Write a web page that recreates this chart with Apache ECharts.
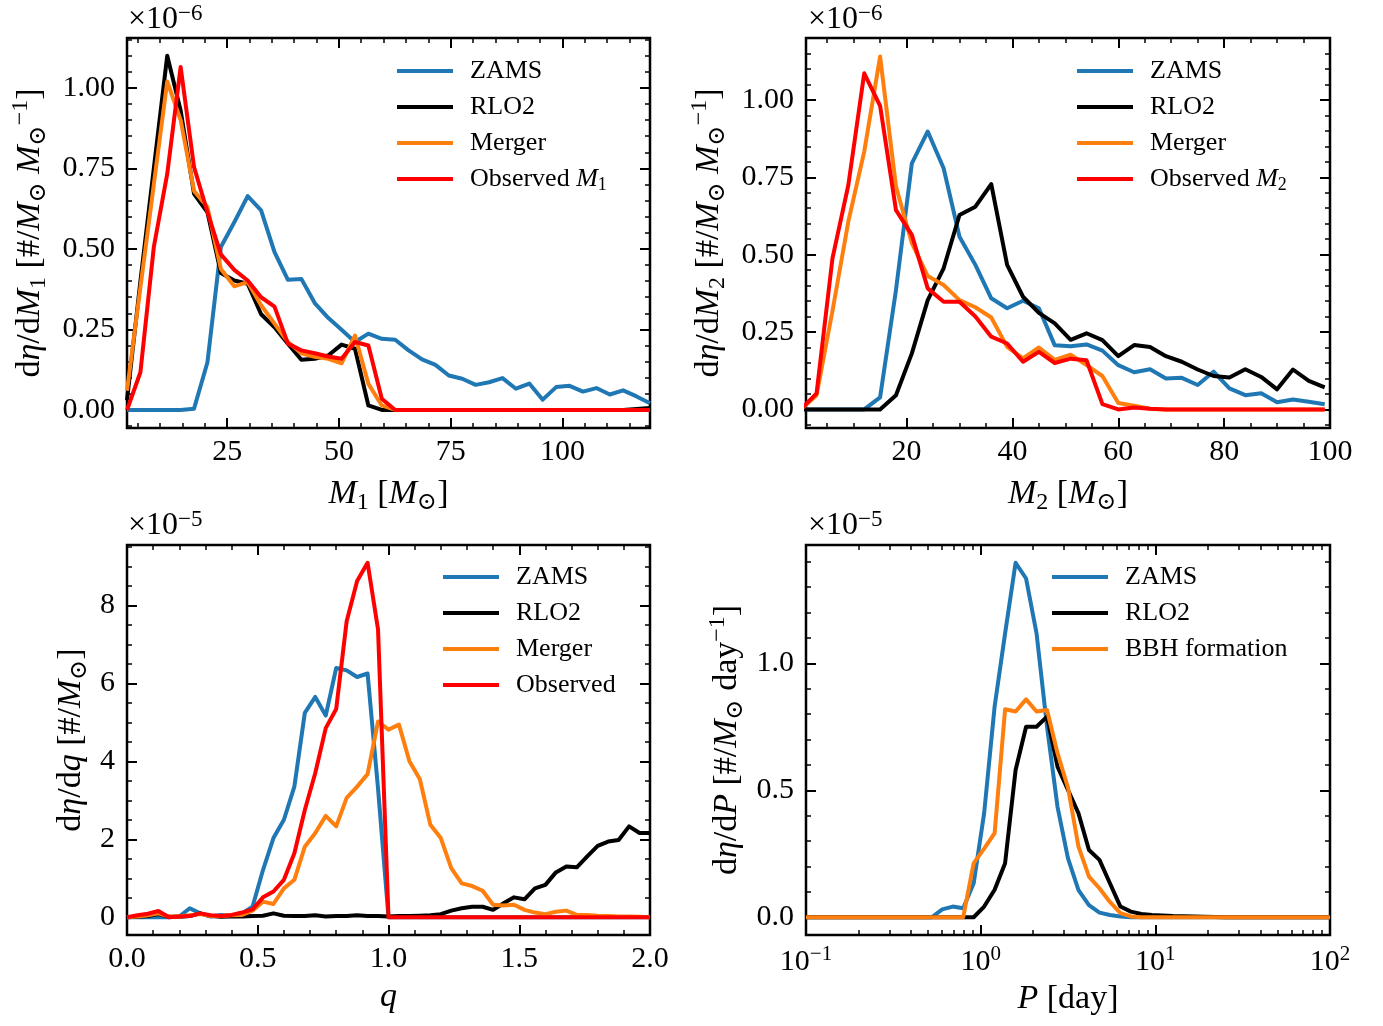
<!DOCTYPE html>
<html><head><meta charset="utf-8">
<script src="https://cdn.jsdelivr.net/npm/echarts@6/dist/echarts.min.js"></script>
<style>html,body{margin:0;padding:0;background:#fff}#c{width:1383px;height:1026px}</style>
</head><body><div id="c"></div>
<script>
// ---------------- data ----------------
// Panel (a): primary mass M1 [Msun], values in units of 1e-6
const m1 = [2.6,5.6,8.6,11.6,14.6,17.6,20.6,23.6,26.6,29.6,32.6,35.6,38.6,41.6,44.6,47.6,50.6,53.6,56.6,59.6,62.6,65.6,68.6,71.6,74.6,77.6,80.6,83.6,86.6,89.6,92.6,95.6,98.6,101.6,104.6,107.6,110.6,113.6,116.6,119.6];
const m1Zams = [0,0,0,0,0,0.004,0.148,0.506,0.583,0.664,0.620,0.49,0.404,0.407,0.332,0.286,0.249,0.211,0.237,0.221,0.218,0.185,0.157,0.140,0.107,0.097,0.078,0.086,0.099,0.066,0.082,0.032,0.071,0.075,0.057,0.068,0.048,0.061,0.042,0.021];
const m1Rlo2 = [0.03,0.40,0.75,1.10,0.93,0.671,0.614,0.425,0.402,0.392,0.297,0.257,0.206,0.156,0.159,0.169,0.203,0.19,0.014,0,0,0,0,0,0,0,0,0,0,0,0,0,0,0,0,0,0,0,0.003,0.006];
const m1Merger = [0.06,0.38,0.70,1.02,0.90,0.68,0.63,0.438,0.384,0.397,0.325,0.268,0.211,0.176,0.165,0.159,0.145,0.231,0.081,0.014,0,0,0,0,0,0,0,0,0,0,0,0,0,0,0,0,0,0,0,0];
const m1Obs = [0,0.117,0.506,0.733,1.065,0.754,0.614,0.483,0.435,0.402,0.35,0.321,0.206,0.185,0.176,0.166,0.159,0.211,0.2,0.035,0,0,0,0,0,0,0,0,0,0,0,0,0,0,0,0,0,0,0,0];

// Panel (b): secondary mass M2 [Msun], units of 1e-6
const m2 = [0,3,6,9,12,15,18,21,24,27,30,33,36,39,42,45,48,51,54,57,60,63,66,69,72,75,78,81,84,87,90,93,96,99];
const m2Zams = [0,0,0,0,0,0.039,0.386,0.795,0.898,0.779,0.558,0.467,0.359,0.327,0.351,0.327,0.207,0.204,0.21,0.19,0.143,0.12,0.13,0.1,0.102,0.079,0.122,0.068,0.046,0.052,0.023,0.032,0.025,0.017];
const m2Rlo2 = [0,0,0,0,0,0,0.046,0.181,0.353,0.456,0.628,0.655,0.728,0.467,0.364,0.312,0.278,0.225,0.246,0.224,0.172,0.208,0.202,0.172,0.154,0.129,0.108,0.103,0.13,0.105,0.065,0.129,0.092,0.071];
const m2Merger = [0,0.046,0.318,0.607,0.833,1.14,0.72,0.537,0.431,0.402,0.353,0.33,0.297,0.202,0.165,0.2,0.16,0.177,0.143,0.108,0.021,0.012,0.002,0,0,0,0,0,0,0,0,0,0,0];
const m2Obs = [0,0.052,0.488,0.725,1.086,0.981,0.644,0.564,0.391,0.348,0.348,0.30,0.235,0.213,0.154,0.186,0.15,0.164,0.159,0.017,0,0.006,0.002,0,0,0,0,0,0,0,0,0,0,0];

// Panel (c): mass ratio q, units of 1e-5
const q = [0,0.04,0.08,0.12,0.16,0.2,0.24,0.28,0.32,0.36,0.4,0.44,0.48,0.52,0.56,0.6,0.64,0.68,0.72,0.76,0.8,0.84,0.88,0.92,0.96,1.0,1.04,1.08,1.12,1.16,1.2,1.24,1.28,1.32,1.36,1.4,1.44,1.48,1.52,1.56,1.6,1.64,1.68,1.72,1.76,1.8,1.84,1.88,1.92,1.96,2.0];
const qZams = [0,0,0,0,0,0.02,0.23,0.1,0.02,0.06,0.03,0.1,0.27,1.21,2.03,2.5,3.35,5.24,5.65,5.17,6.39,6.33,6.16,6.25,3.3,0,0,0,0,0,0,0,0,0,0,0,0,0,0,0,0,0,0,0,0,0,0,0,0,0,0];
const qRlo2 = [0,0.01,0.03,0.08,0.01,0.01,0.03,0.1,0.03,0.01,0.02,0.02,0.03,0.04,0.1,0.04,0.03,0.03,0.05,0.02,0.03,0.03,0.05,0.03,0.03,0.02,0.03,0.03,0.04,0.05,0.08,0.17,0.23,0.27,0.27,0.19,0.36,0.51,0.46,0.74,0.83,1.15,1.30,1.28,1.56,1.83,1.94,1.98,2.33,2.16,2.16];
const qMerger = [0,0.02,0.05,0.1,0.02,0.02,0.05,0.08,0.03,0.03,0.05,0.06,0.17,0.4,0.34,0.74,0.96,1.81,2.16,2.6,2.33,3.06,3.35,3.67,5.02,4.81,4.94,4.0,3.54,2.37,2.03,1.26,0.87,0.80,0.68,0.32,0.30,0.32,0.19,0.12,0.08,0.14,0.17,0.06,0.06,0.04,0.03,0.02,0.02,0.01,0];
const qObs = [0,0.05,0.09,0.16,0,0.02,0.03,0.1,0.05,0.03,0.06,0.12,0.2,0.51,0.66,0.96,1.64,2.75,3.7,4.85,5.34,7.59,8.62,9.09,7.38,0,0,0,0,0,0,0,0,0,0,0,0,0,0,0,0,0,0,0,0,0,0,0,0,0,0];

// Panel (d): orbital period P [day], units of 1e-5
const period = [0.1,0.1148,0.1318,0.1514,0.1738,0.1995,0.2291,0.2630,0.3020,0.3467,0.3981,0.4571,0.5248,0.6026,0.6918,0.7943,0.9120,1.047,1.202,1.380,1.585,1.820,2.089,2.399,2.754,3.162,3.631,4.169,4.786,5.495,6.310,7.244,8.318,9.550,10.96,12.59,14.45,16.60,19.05,21.88,25.12,28.84,33.11,38.02,43.65,50.12,57.54,66.07,75.86,87.10,100.0];
const pZams = [0,0,0,0,0,0,0,0,0,0,0,0,0,0.031,0.042,0.035,0.134,0.41,0.83,1.118,1.396,1.334,1.118,0.75,0.435,0.232,0.107,0.048,0.018,0.009,0.003,0,0,0,0,0,0,0,0,0,0,0,0,0,0,0,0,0,0,0,0];
const pRlo2 = [0,0,0,0,0,0,0,0,0,0,0,0,0,0,0,0,0,0.042,0.108,0.213,0.58,0.75,0.75,0.79,0.593,0.501,0.409,0.265,0.226,0.134,0.042,0.022,0.013,0.009,0.007,0.005,0.004,0.003,0.002,0.001,0,0,0,0,0,0,0,0,0,0,0];
const pBbh = [0,0,0,0,0,0,0,0,0,0,0,0,0,0,0,0,0.213,0.27,0.331,0.819,0.81,0.858,0.81,0.816,0.646,0.51,0.278,0.16,0.114,0.06,0.016,0.003,0,0,0,0,0,0,0,0,0,0,0,0,0,0,0,0,0,0,0];

// tick values
const m1Ticks = [25,50,75,100];
const m1Minor = [5,10,15,20,30,35,40,45,55,60,65,70,80,85,90,95,105,110,115];
const m2Ticks = [20,40,60,80,100];
const m2Minor = [5,10,15,25,30,35,45,50,55,65,70,75,85,90,95];
const qTicks = [0,0.5,1,1.5,2];
const qMinor = [0.1,0.2,0.3,0.4,0.6,0.7,0.8,0.9,1.1,1.2,1.3,1.4,1.6,1.7,1.8,1.9];
const pTicks = [0.1,1,10,100];
const pMinor = [0.2,0.3,0.4,0.5,0.6,0.7,0.8,0.9,2,3,4,5,6,7,8,9,20,30,40,50,60,70,80,90];
const massYTicks = [0,0.25,0.5,0.75,1.0];
const massYMinor = [-0.05,0.05,0.1,0.15,0.2,0.3,0.35,0.4,0.45,0.55,0.6,0.65,0.7,0.8,0.85,0.9,0.95,1.05,1.1,1.15];
const qYTicks = [0,2,4,6,8];
const qYMinor = [0.5,1,1.5,2.5,3,3.5,4.5,5,5.5,6.5,7,7.5,8.5,9,9.5];
const pYTicks = [0,0.5,1.0];
const pYMinor = [0.1,0.2,0.3,0.4,0.6,0.7,0.8,0.9,1.1,1.2,1.3,1.4];

// ---------------- styling / layout ----------------
const FONT = "'Liberation Serif','DejaVu Serif',serif";
const BLUE='#1f77b4', BLACK='#000000', ORANGE='#ff7f0e', RED='#ff0000';
const TICK_FS = 30, NAME_FS = 34, LEG_FS = 26;

function rich(size, lh) {
  const s = Math.round(size * 0.7);
  return {
    i: {fontFamily: FONT, fontSize: size, fontStyle: 'italic', lineHeight: lh, color: '#000'},
    sb: {fontFamily: FONT, fontSize: s, lineHeight: s, verticalAlign: 'bottom', color: '#000'},
    sp: {fontFamily: FONT, fontSize: s, lineHeight: s, verticalAlign: 'top', color: '#000'}
  };
}

const grids = [
  {left: 127, top: 38, width: 523, height: 390},
  {left: 806, top: 38, width: 524, height: 390},
  {left: 127, top: 545, width: 523, height: 390},
  {left: 806, top: 545, width: 524, height: 390}
].map(g => Object.assign(g, {show: true, borderColor: '#000', borderWidth: 2.5, backgroundColor: 'transparent'}));

const xAxes = [], yAxes = [];
function add(list, o) { list.push(o); return list.length - 1; }

function axisSet(list, dim, g, opt) {
  const posA = dim === 'x' ? 'bottom' : 'left';
  const posB = dim === 'x' ? 'top' : 'right';
  const tmin = opt.tmin !== undefined ? opt.tmin : opt.min;
  const tmax = opt.tmax !== undefined ? opt.tmax : opt.max;
  const base = {gridIndex: g, type: 'value', min: tmin, max: tmax, offset: 0,
    axisLine: {show: false, onZero: false}, splitLine: {show: false}};
  const major = opt.major, minor = opt.minor;
  const majTick = {show: true, inside: true, length: 10, customValues: major, lineStyle: {color: '#000', width: 2}};
  const minTick = {show: true, inside: true, length: 5, customValues: minor, lineStyle: {color: '#000', width: 1.5}};
  let dataIdx;
  if (opt.dataType === 'log') {
    dataIdx = add(list, {gridIndex: g, type: 'log', logBase: 10, min: opt.min, max: opt.max, show: false,
      position: posA, axisLine: {show: false, onZero: false}, splitLine: {show: false}});
  }
  const mainIdx = add(list, Object.assign({}, base, {
    position: posA,
    axisTick: majTick,
    axisLabel: {show: true, customValues: major, formatter: opt.fmt, margin: opt.margin,
      fontFamily: FONT, fontSize: TICK_FS, color: '#000', rich: opt.labelRich},
    name: opt.name, nameLocation: 'middle', nameGap: opt.nameGap, nameRotate: dim === 'y' ? 90 : 0,
    nameTextStyle: {fontFamily: FONT, fontSize: NAME_FS, color: '#000', lineHeight: 42, rich: rich(NAME_FS, 42)}
  }));
  add(list, Object.assign({}, base, {position: posA, axisTick: minTick, axisLabel: {show: false}}));
  add(list, Object.assign({}, base, {position: posB, axisTick: majTick, axisLabel: {show: false}}));
  add(list, Object.assign({}, base, {position: posB, axisTick: minTick, axisLabel: {show: false}}));
  return dataIdx !== undefined ? dataIdx : mainIdx;
}

const f2 = v => v.toFixed(2), f1 = v => v.toFixed(1), f0 = v => String(Math.round(v));
const mSunInv = ' [#/{i|M}{sb|⊙} {i|M}{sb|⊙}{sp|−1}]';

// axes panel (a)
const xa = axisSet(xAxes, 'x', 0, {min: 2.6, max: 119.6, major: m1Ticks, minor: m1Minor, fmt: f0, margin: 9,
  name: '{i|M}{sb|1} [{i|M}{sb|⊙}]', nameGap: 45});
const ya = axisSet(yAxes, 'y', 0, {min: -0.056, max: 1.155, major: massYTicks, minor: massYMinor, fmt: f2, margin: 12,
  name: 'd{i|η}/d{i|M}{sb|1}' + mSunInv, nameGap: 76});
// axes panel (b)
const xb = axisSet(xAxes, 'x', 1, {min: 1, max: 100, major: m2Ticks, minor: m2Minor, fmt: f0, margin: 9,
  name: '{i|M}{sb|2} [{i|M}{sb|⊙}]', nameGap: 45});
const yb = axisSet(yAxes, 'y', 1, {min: -0.06, max: 1.20, major: massYTicks, minor: massYMinor, fmt: f2, margin: 12,
  name: 'd{i|η}/d{i|M}{sb|2}' + mSunInv, nameGap: 76});
// axes panel (c)
const xc = axisSet(xAxes, 'x', 2, {min: 0, max: 2, major: qTicks, minor: qMinor, fmt: f1, margin: 9,
  name: '{i|q}', nameGap: 41});
const yc = axisSet(yAxes, 'y', 2, {min: -0.455, max: 9.545, major: qYTicks, minor: qYMinor, fmt: f0, margin: 12,
  name: 'd{i|η}/d{i|q} [#/{i|M}{sb|⊙}]', nameGap: 35});
// axes panel (d) : data on a log axis, ticks drawn on a log10-space axis
const xd = axisSet(xAxes, 'x', 3, {dataType: 'log', min: 0.1, max: 100, tmin: -1, tmax: 2,
  major: pTicks.map(v => Math.log10(v)), minor: pMinor.map(v => Math.log10(v)), margin: 9,
  fmt: v => { const e = Math.round(v); return '{b|10}{e|' + (e < 0 ? '−' + (-e) : e) + '}'; },
  labelRich: {b: {fontFamily: FONT, fontSize: TICK_FS, lineHeight: 36}, e: {fontFamily: FONT, fontSize: 21, lineHeight: 21, verticalAlign: 'top'}},
  name: '{i|P} [day]', nameGap: 42});
const yd = axisSet(yAxes, 'y', 3, {min: -0.07, max: 1.466, major: pYTicks, minor: pYMinor, fmt: f1, margin: 12,
  name: 'd{i|η}/d{i|P} [#/{i|M}{sb|⊙} day{sp|−1}]', nameGap: 58});

function line(name, xs, ys, color, xi, yi) {
  return {type: 'line', name, data: xs.map((x, i) => [x, ys[i]]), xAxisIndex: xi, yAxisIndex: yi,
    symbol: 'none', showSymbol: false, clip: true, animation: false, color,
    itemStyle: {color}, lineStyle: {color, width: 4, join: 'round'}};
}

const series = [
  line('ZAMS', m1, m1Zams, BLUE, xa, ya),
  line('RLO2', m1, m1Rlo2, BLACK, xa, ya),
  line('Merger', m1, m1Merger, ORANGE, xa, ya),
  line('Observed M1', m1, m1Obs, RED, xa, ya),
  line('ZAMS', m2, m2Zams, BLUE, xb, yb),
  line('RLO2', m2, m2Rlo2, BLACK, xb, yb),
  line('Merger', m2, m2Merger, ORANGE, xb, yb),
  line('Observed M2', m2, m2Obs, RED, xb, yb),
  line('ZAMS', q, qZams, BLUE, xc, yc),
  line('RLO2', q, qRlo2, BLACK, xc, yc),
  line('Merger', q, qMerger, ORANGE, xc, yc),
  line('Observed', q, qObs, RED, xc, yc),
  line('ZAMS', period, pZams, BLUE, xd, yd),
  line('RLO2', period, pRlo2, BLACK, xd, yd),
  line('BBH formation', period, pBbh, ORANGE, xd, yd)
];

function legend(left, top, names) {
  return {left, top, orient: 'vertical', data: names, icon: 'rect', itemWidth: 56, itemHeight: 4,
    itemGap: 6, padding: 0, selectedMode: false, itemStyle: {borderWidth: 0},
    formatter: n => n === 'Observed M1' ? 'Observed {i|M}{sb|1}' : n === 'Observed M2' ? 'Observed {i|M}{sb|2}' : n,
    textStyle: {fontFamily: FONT, fontSize: LEG_FS, lineHeight: 30, color: '#000', padding: [0, 0, 0, 12], rich: rich(LEG_FS, 30)}};
}

function expo(left, top, e) {
  return {type: 'text', left, top, silent: true,
    style: {text: '×10{sp|' + e + '}', font: "32px 'Liberation Serif'", lineHeight: 36, fill: '#000',
      rich: {sp: {font: "23px 'Liberation Serif'", lineHeight: 23, verticalAlign: 'top', fill: '#000'}}}};
}

const chart = echarts.init(document.getElementById('c'), null, {renderer: 'canvas'});
chart.setOption({
  animation: false,
  backgroundColor: '#ffffff',
  grid: grids,
  xAxis: xAxes,
  yAxis: yAxes,
  legend: [
    legend(397, 56, ['ZAMS', 'RLO2', 'Merger', 'Observed M1']),
    legend(1077, 56, ['ZAMS', 'RLO2', 'Merger', 'Observed M2']),
    legend(443, 562, ['ZAMS', 'RLO2', 'Merger', 'Observed']),
    legend(1052, 562, ['ZAMS', 'RLO2', 'BBH formation'])
  ],
  graphic: [
    expo(128, 2, '−6'), expo(808, 2, '−6'), expo(128, 508, '−5'), expo(808, 508, '−5')
  ],
  series
});
</script></body></html>
